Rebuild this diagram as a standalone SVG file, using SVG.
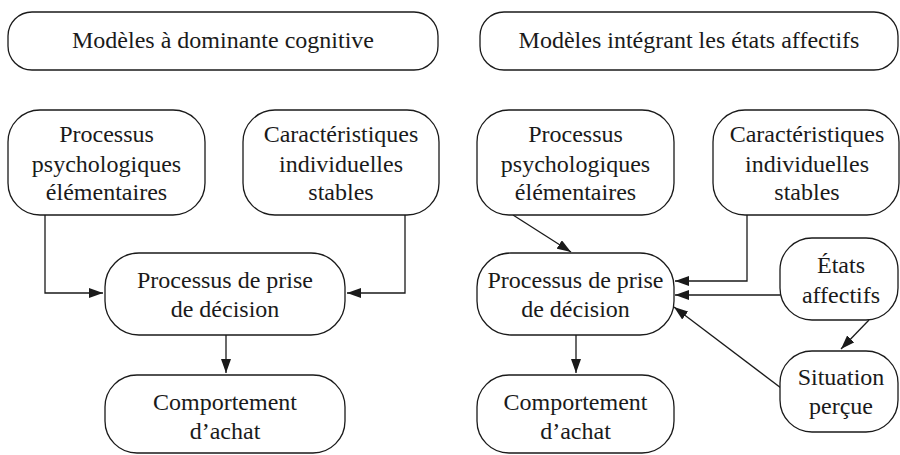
<svg xmlns="http://www.w3.org/2000/svg" width="900" height="455" viewBox="0 0 900 455">
<defs>
<marker id="ah" viewBox="0 0 14 10" refX="14" refY="5" markerWidth="14" markerHeight="10" markerUnits="userSpaceOnUse" orient="auto">
<path d="M0,0 L14,5 L0,10 Z" fill="#1a1a1a"/>
</marker>
<style>
.box{fill:#fff;stroke:#1a1a1a;stroke-width:1.3}
.t{font-family:'Liberation Serif','Times New Roman',Tinos,'Noto Serif','DejaVu Serif',FreeSerif,'Nimbus Roman','Nimbus Roman No9 L',Times,serif;font-size:24px;fill:#1a1a1a;text-anchor:middle}
.c{fill:none;stroke:#1a1a1a;stroke-width:1.3;marker-end:url(#ah)}
</style>
</defs>
<rect width="900" height="455" fill="#fff"/>
<g id="title-left"><rect class="box" x="8" y="12" width="430" height="58" rx="24"/><text class="t" x="223" y="48">Modèles à dominante cognitive</text></g>
<g id="title-right"><rect class="box" x="480" y="12" width="418" height="58" rx="24"/><text class="t" x="689" y="48">Modèles intégrant les états affectifs</text></g>

<g id="connectors">
<path class="c" d="M45,215 V293 H103"/>
<path class="c" d="M405,215 V293 H347"/>
<path class="c" d="M226,335 V373"/>
<path class="c" d="M513,215 L571,252"/>
<path class="c" d="M747,215 V281 H675"/>
<path class="c" d="M780,295 H675"/>
<path class="c" d="M869,320 L841,349"/>
<path class="c" d="M781,388 L674,307"/>
<path class="c" d="M576,335 V373"/>
</g>

<g id="l-psy"><rect class="box" x="8" y="110" width="197" height="105" rx="32"/><text class="t" x="106.5" y="142">Processus</text><text class="t" x="106.5" y="172">psychologiques</text><text class="t" x="106.5" y="200">élémentaires</text></g>
<g id="l-car"><rect class="box" x="243" y="110" width="196" height="105" rx="32"/><text class="t" x="341" y="142">Caractéristiques</text><text class="t" x="341" y="172">individuelles</text><text class="t" x="341" y="200">stables</text></g>
<g id="l-dec"><rect class="box" x="105" y="253" width="240" height="82" rx="34"/><text class="t" x="225" y="288">Processus de prise</text><text class="t" x="225" y="317">de décision</text></g>
<g id="l-comp"><rect class="box" x="105" y="375" width="240" height="78" rx="32"/><text class="t" x="225" y="410">Comportement</text><text class="t" x="225" y="439">d’achat</text></g>

<g id="r-psy"><rect class="box" x="477" y="110" width="197" height="105" rx="32"/><text class="t" x="575.5" y="142">Processus</text><text class="t" x="575.5" y="172">psychologiques</text><text class="t" x="575.5" y="200">élémentaires</text></g>
<g id="r-car"><rect class="box" x="713" y="110" width="186" height="105" rx="32"/><text class="t" x="807" y="142">Caractéristiques</text><text class="t" x="807" y="172">individuelles</text><text class="t" x="807" y="200">stables</text></g>
<g id="r-dec"><rect class="box" x="477" y="253" width="197" height="82" rx="34"/><text class="t" x="575.5" y="288">Processus de prise</text><text class="t" x="575.5" y="317">de décision</text></g>
<g id="r-comp"><rect class="box" x="477" y="375" width="197" height="78" rx="32"/><text class="t" x="575.5" y="410">Comportement</text><text class="t" x="575.5" y="439">d’achat</text></g>
<g id="r-etat"><rect class="box" x="780" y="238" width="118" height="82" rx="32"/><text class="t" x="841" y="273">États</text><text class="t" x="841" y="303">affectifs</text></g>
<g id="r-sit"><rect class="box" x="780" y="351" width="118" height="81" rx="32"/><text class="t" x="841" y="385">Situation</text><text class="t" x="841" y="414">perçue</text></g>
</svg>
